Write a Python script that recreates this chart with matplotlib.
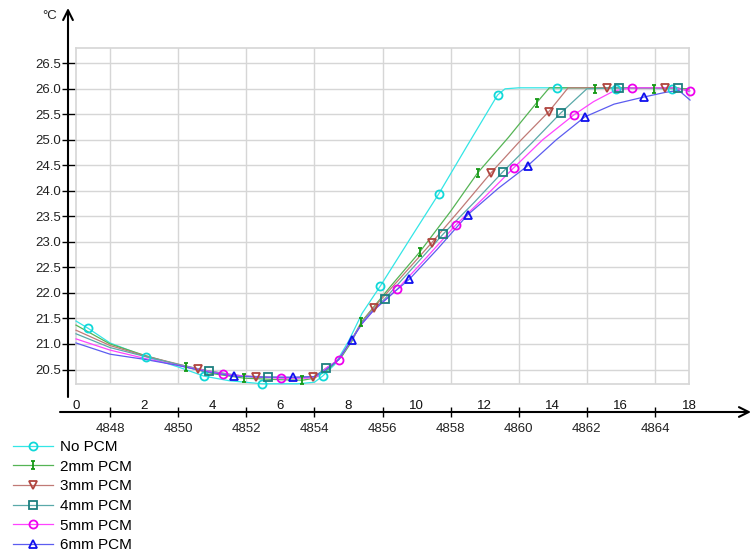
import numpy as np
import matplotlib
matplotlib.use("Agg")
import matplotlib.pyplot as plt
from matplotlib.path import Path
from matplotlib.legend_handler import HandlerTuple
from matplotlib.ticker import FormatStrFormatter

plt.rcParams['font.family'] = ['Liberation Sans', 'DejaVu Sans']

# ---------------- data (x in hours 0..18, y in degC) ----------------
series_names = ["No PCM", "2mm PCM", "3mm PCM", "4mm PCM", "5mm PCM", "6mm PCM"]

nopcm_x = [0, 0.35, 1.0, 2.06, 3.0, 3.76, 4.5, 5.47, 6.5, 7.0, 7.24, 7.6, 8.0, 8.4, 8.94, 9.8,
           10.65, 11.5, 12.38, 12.6, 13.0, 14.12, 15.85, 17.5, 18.0]
nopcm_y = [21.45, 21.31, 21.02, 20.75, 20.55, 20.37, 20.28, 20.22, 20.22, 20.25, 20.37, 20.6,
           21.05, 21.6, 22.14, 23.05, 23.94, 24.9, 25.88, 26.0, 26.02, 26.02, 26.02, 26.0, 26.0]
nopcm_mx = [0.35, 2.06, 3.76, 5.47, 7.24, 8.94, 10.65, 12.38, 14.12, 15.85, 17.5]
nopcm_my = [21.31, 20.75, 20.37, 20.22, 20.37, 22.14, 23.94, 25.88, 26.02, 26.0, 26.0]

pcm2_x = [0, 1, 2, 3.22, 4.0, 4.94, 6.0, 6.65, 7.0, 7.4, 7.8, 8.1, 8.38, 9.2, 10.09, 11.0,
          11.79, 12.7, 13.53, 13.9, 15.24, 16.97, 18.0]
pcm2_y = [21.37, 21.0, 20.78, 20.55, 20.42, 20.33, 20.3, 20.29, 20.33, 20.5, 20.75, 21.05,
          21.43, 22.1, 22.8, 23.6, 24.35, 25.05, 25.73, 26.02, 26.02, 26.02, 26.0]
pcm2_mx = [3.22, 4.94, 6.65, 8.38, 10.09, 11.79, 13.53, 15.24, 16.97]
pcm2_my = [20.55, 20.33, 20.29, 21.43, 22.8, 24.35, 25.73, 26.0, 26.0]

pcm3_x = [0, 1, 2, 3.59, 4.5, 5.29, 6.2, 6.97, 7.35, 7.71, 8.09, 8.38, 8.74, 9.6, 10.44, 11.3,
          12.18, 13.0, 13.88, 14.45, 15.59, 17.29, 18.0]
pcm3_y = [21.27, 20.97, 20.77, 20.51, 20.4, 20.35, 20.34, 20.35, 20.52, 20.69, 21.08, 21.43,
          21.71, 22.35, 22.98, 23.65, 24.35, 24.95, 25.55, 26.02, 26.02, 26.02, 25.98]
pcm3_mx = [3.59, 5.29, 6.97, 8.74, 10.44, 12.18, 13.88, 15.59, 17.29]
pcm3_my = [20.51, 20.35, 20.35, 21.71, 22.98, 24.35, 25.55, 26.02, 26.02]

pcm4_x = [0, 1, 2, 3.0, 3.91, 4.8, 5.65, 6.5, 7.0, 7.35, 7.71, 8.09, 8.4, 8.74, 9.06, 9.9,
          10.79, 11.7, 12.53, 13.4, 14.24, 15.0, 15.94, 17.68, 18.0]
pcm4_y = [21.2, 20.93, 20.76, 20.6, 20.47, 20.38, 20.35, 20.34, 20.36, 20.53, 20.69, 21.08,
          21.43, 21.68, 21.88, 22.5, 23.16, 23.78, 24.37, 24.95, 25.53, 26.0, 26.02, 26.02, 25.95]
pcm4_mx = [3.91, 5.65, 7.35, 9.06, 10.79, 12.53, 14.24, 15.94, 17.68]
pcm4_my = [20.47, 20.35, 20.53, 21.88, 23.16, 24.37, 25.53, 26.02, 26.02]

pcm5_x = [0, 1, 2, 3.0, 4.32, 5.2, 6.03, 6.8, 7.1, 7.35, 7.71, 8.09, 8.4, 8.74, 9.06, 9.44,
          10.3, 11.15, 12.0, 12.85, 13.7, 14.62, 15.2, 15.8, 16.32, 17.5, 18.03]
pcm5_y = [21.1, 20.88, 20.72, 20.58, 20.41, 20.36, 20.33, 20.33, 20.37, 20.53, 20.69, 21.08,
          21.4, 21.66, 21.85, 22.08, 22.7, 23.33, 23.88, 24.45, 25.0, 25.49, 25.75, 25.96,
          26.02, 26.02, 25.96]
pcm5_mx = [4.32, 6.03, 7.71, 9.44, 11.15, 12.85, 14.62, 16.32, 18.03]
pcm5_my = [20.41, 20.33, 20.69, 22.08, 23.33, 24.45, 25.49, 26.02, 25.96]

pcm6_x = [0, 1, 2, 3.0, 3.8, 4.65, 5.5, 6.38, 7.0, 7.35, 7.71, 8.09, 8.4, 8.74, 9.06, 9.4,
          9.79, 10.6, 11.5, 12.4, 13.26, 14.1, 14.94, 15.8, 16.68, 17.3, 17.7, 18.03]
pcm6_y = [21.02, 20.8, 20.7, 20.58, 20.46, 20.37, 20.35, 20.35, 20.36, 20.5, 20.69, 21.08,
          21.4, 21.66, 21.85, 22.05, 22.27, 22.85, 23.53, 24.05, 24.49, 25.0, 25.45, 25.7,
          25.84, 25.93, 25.97, 25.78]
pcm6_mx = [4.65, 6.38, 8.09, 9.79, 11.5, 13.26, 14.94, 16.68]
pcm6_my = [20.37, 20.35, 21.08, 22.27, 23.53, 24.49, 25.45, 25.84]

upper_ticks = list(range(0, 19, 2))
lower_ticks = list(range(4848, 4865, 2))
y_ticks = [20.5, 21.0, 21.5, 22.0, 22.5, 23.0, 23.5, 24.0, 24.5, 25.0, 25.5, 26.0, 26.5]
x_offset = 4847

# ---------------- styles ----------------
i_marker = Path([(-0.35, 1), (0.35, 1), (0, 1), (0, -1), (-0.35, -1), (0.35, -1)],
                [Path.MOVETO, Path.LINETO, Path.MOVETO, Path.LINETO, Path.MOVETO, Path.LINETO])

styles = [
    dict(line='#33e6e6', mc='#10d8d8', marker='o', ms=5.8),
    dict(line='#55b455', mc='#159915', marker=i_marker, ms=6.2),
    dict(line='#c07a76', mc='#b0443e', marker='v', ms=6.0),
    dict(line='#5aa9a9', mc='#1c7f7f', marker='s', ms=5.3),
    dict(line='#ff44ff', mc='#ee00ee', marker='o', ms=5.8),
    dict(line='#5c5cf0', mc='#1010ee', marker='^', ms=5.8),
]

lines_xy = [(nopcm_x, nopcm_y), (pcm2_x, pcm2_y), (pcm3_x, pcm3_y),
            (pcm4_x, pcm4_y), (pcm5_x, pcm5_y), (pcm6_x, pcm6_y)]
marks_xy = [(nopcm_mx, nopcm_my), (pcm2_mx, pcm2_my), (pcm3_mx, pcm3_my),
            (pcm4_mx, pcm4_my), (pcm5_mx, pcm5_my), (pcm6_mx, pcm6_my)]

# ---------------- figure ----------------
W, H = 751, 556
fig = plt.figure(figsize=(W / 100, H / 100), dpi=100)
L, R, T, B = 76, 689, 48, 384
ax = fig.add_axes([L / W, 1 - B / H, (R - L) / W, (B - T) / H])
ax.set_xlim(0, 18)
ax.set_ylim(20.216, 26.80)

handles = []
for (lx, ly), (mx, my), st in zip(lines_xy, marks_xy, styles):
    ln, = ax.plot(lx, ly, color=st['line'], lw=0.9, zorder=3, clip_on=False)
    mk, = ax.plot(mx, my, ls='none', marker=st['marker'], ms=st['ms'],
                  mfc='none', mec=st['mc'], mew=1.3, zorder=4, clip_on=False)
    handles.append((ln, mk))

# grid & frame
ax.set_yticks(y_ticks)
ax.yaxis.set_major_formatter(FormatStrFormatter('%.1f'))
ax.set_xticks(upper_ticks)
ax.set_xticks(np.arange(1, 18, 2), minor=True)
ax.xaxis.grid(True, which='minor', color='#d6d6d6', lw=1.0)
ax.yaxis.grid(True, which='major', color='#d6d6d6', lw=1.0)
ax.set_axisbelow(True)
for s in ax.spines.values():
    s.set_color('#d6d6d6')
    s.set_linewidth(1.2)

ax.tick_params(axis='y', direction='out', length=10, width=1, color='black',
               labelsize=9.5, labelcolor='#222222', pad=1)
ax.tick_params(axis='x', which='major', length=0, labelsize=9.5, labelcolor='#111111', pad=11.5)
ax.tick_params(axis='x', which='minor', length=0)

# lower (absolute time) axis
sec = ax.secondary_xaxis((B - 412) / (B - T),
                         functions=(lambda v: v + x_offset, lambda v: v - x_offset))
sec.set_xticks(lower_ticks)
sec.spines['bottom'].set_visible(False)
sec.spines['top'].set_visible(False)
sec.tick_params(axis='x', direction='inout', length=7, width=1, color='black',
                labelsize=9.5, labelcolor='#222222', pad=4.5)

# arrow axes
pw, ph = (R - L), (B - T)
ax.annotate('', xy=((68 - L) / pw, (B - 8) / ph), xytext=((68 - L) / pw, (B - 397) / ph),
            xycoords='axes fraction', annotation_clip=False,
            arrowprops=dict(arrowstyle='->,head_length=0.7,head_width=0.35', lw=1.5,
                            color='black', shrinkA=0, shrinkB=0))
ax.annotate('', xy=((751 - L) / pw, (B - 412) / ph), xytext=((60 - L) / pw, (B - 412) / ph),
            xycoords='axes fraction', annotation_clip=False,
            arrowprops=dict(arrowstyle='->,head_length=0.7,head_width=0.35', lw=1.5,
                            color='black', shrinkA=0, shrinkB=0))
fig.text(50 / W, 1 - 16 / H, '°C', ha='center', va='center', fontsize=9.5, color='#222222')

# legend
fig.legend(handles, series_names, loc='upper left', bbox_to_anchor=(13 / W, 1 - 440 / H),
           frameon=False, fontsize=11, handlelength=2.6, handletextpad=0.45,
           labelspacing=0.37, borderpad=0, borderaxespad=0, numpoints=1,
           handler_map={tuple: HandlerTuple(ndivide=1)})

fig.savefig('out.png', dpi=100)
